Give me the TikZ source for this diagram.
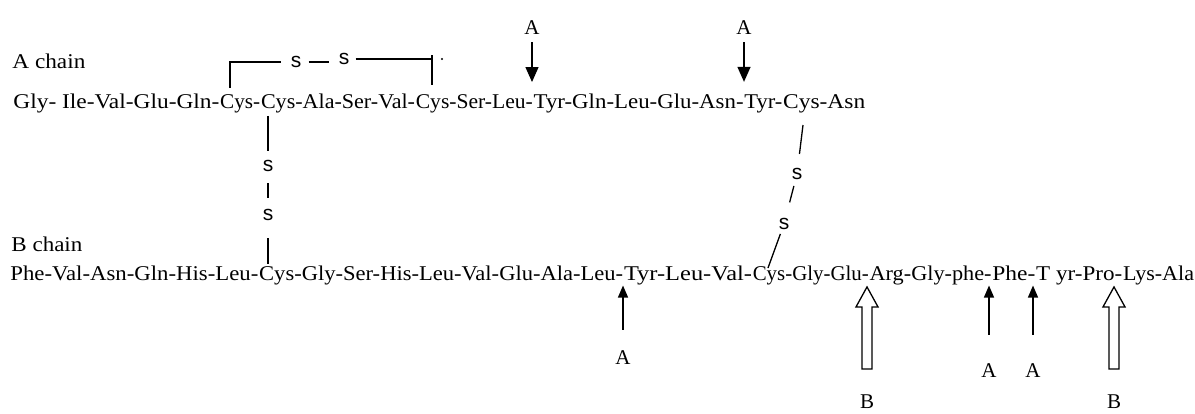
\documentclass[tikz,border=0pt]{standalone}
\usepackage{fontspec}
\usepackage{graphicx}
\setmainfont{Liberation Serif}
\newfontfamily\bondfont{Liberation Sans}
\usetikzlibrary{arrows.meta,calc}
\tikzset{
  seq/.style={inner sep=0pt, anchor=base west, font=\fontsize{10.5pt}{12pt}\selectfont},
  lbl/.style={inner sep=0pt, anchor=base, font=\fontsize{10.5pt}{12pt}\selectfont},
  sl/.style={inner sep=0pt, font=\bondfont\fontsize{10.5pt}{12pt}\selectfont},
  bond/.style={line width=0.65pt},
  arrtop/.style={line width=0.65pt, -{Triangle[width=6.5pt,length=7.5pt]}},
  arrbot/.style={line width=0.65pt, -{Triangle[width=5pt,length=6pt]}},
  hollow/.style={line width=0.65pt},
}
\begin{document}
\begin{tikzpicture}[x=0.5pt,y=-0.5pt]
\useasboundingbox (0,0) rectangle (1195,413);

% ---------- A chain ----------
\node[seq] (alab) at (12,68) {\resizebox{36.5pt}{\height}{A chain}};
\node[seq] (a1) at (13,108) {\resizebox{103pt}{\height}{Gly- Ile-Val-Glu-Gln-}};
\node[seq] (a2) at (a1.base east) {\resizebox{20pt}{\height}{Cys-}};
\node[seq] (a3) at (a2.base east) {\resizebox{77pt}{\height}{Cys-Ala-Ser-Val-}};
\node[seq] (a4) at (a3.base east) {\resizebox{58.5pt}{\height}{Cys-Ser-Leu-}};
\node[seq] (a5) at (a4.base east) {\resizebox{105pt}{\height}{Tyr-Gln-Leu-Glu-Asn-}};
\node[seq] (a6) at (a5.base east) {\resizebox{19pt}{\height}{Tyr-}};
\node[seq] (a7) at (a6.base east) {\resizebox{41pt}{\height}{Cys-Asn}};

% ---------- B chain ----------
\node[seq] (blab) at (11,251) {\resizebox{35.5pt}{\height}{B chain}};
\node[seq] (b1) at (10,280) {\resizebox{124pt}{\height}{Phe-Val-Asn-Gln-His-Leu-}};
\node[seq] (b2) at (b1.base east) {\resizebox{182pt}{\height}{Cys-Gly-Ser-His-Leu-Val-Glu-Ala-Leu-}};
\node[seq] (b3) at (b2.base east) {\resizebox{64pt}{\height}{Tyr-Leu-Val-}};
\node[seq] (b4) at (b3.base east) {\resizebox{58pt}{\height}{Cys-Gly-Glu-}};
\node[seq] (b5) at (b4.base east) {\resizebox{61pt}{\height}{Arg-Gly-phe-}};
\node[seq] (b6) at (b5.base east) {\resizebox{21.5pt}{\height}{Phe-}};
\node[seq] (b7) at (b6.base east) {\resizebox{43pt}{\height}{T yr-Pro-}};
\node[seq] (b8) at (b7.base east) {\resizebox{35.5pt}{\height}{Lys-Ala}};

% ---------- intra-chain disulfide (A6-A11) ----------
\node[sl] (sA) at (296,62) {s};
\node[sl] (sB) at (344,59) {s};
\coordinate (l1) at (230,62);
\coordinate (r1) at (432,55);
\draw[bond, shorten <=3pt, shorten >=4.5pt] (l1 |- a2.north) |- (sA);
\draw[bond, shorten <=3.5pt, shorten >=7.5pt] (sA) -- (sA -| sB);
\draw[bond, shorten <=3pt] (sB) -- (sB -| r1);
\draw[bond, shorten >=4.5pt] (r1) -- (r1 |- a4.north);
\fill (442,59) circle (0.6pt);

% ---------- inter-chain disulfide A7-B7 ----------
\node[sl] (s1) at (268,166) {s};
\node[sl] (s2) at (268,215) {s};
\draw[bond, shorten <=1.5pt, shorten >=4.5pt] (s1 |- a3.south) -- (s1);
\draw[bond, shorten <=5.5pt, shorten >=5.5pt] (s1) -- (s2);
\draw[bond, shorten <=8.5pt, shorten >=0.5pt] (s2) -- (s2 |- b2.north);

% ---------- inter-chain disulfide A20-B19 ----------
\node[sl] (s3) at (797,174) {s};
\node[sl] (s4) at (784,224) {s};
\coordinate (t1) at (803,125);
\coordinate (t4) at (768,268);
\draw[bond, shorten >=7pt] (t1) -- (s3);
\draw[bond, shorten <=3pt, shorten >=8pt] (s3) -- (s4);
\draw[bond, shorten <=2pt] (s4) -- (t4);

% ---------- cleavage arrows on A chain ----------
\node[lbl] (tA1) at (532,34) {A};
\node[lbl] (tA2) at (744,34) {A};
\draw[arrtop, shorten <=4pt, shorten >=5.5pt] (tA1) -- (tA1 |- a5.north);
\draw[arrtop, shorten <=4pt, shorten >=6pt] (tA2) -- (tA2 |- a6.north);

% ---------- cleavage arrows on B chain ----------
\node[lbl] (bA1) at (623,364) {A};
\node[lbl] (bA2) at (989,377) {A};
\node[lbl] (bA3) at (1033,377) {A};
\draw[arrbot, shorten <=10pt, shorten >=0.3pt] (bA1) -- (bA1 |- b3.south);
\draw[arrbot, shorten <=14pt, shorten >=0.3pt] (bA2) -- (bA2 |- b3.south);
\draw[arrbot, shorten <=14pt, shorten >=0.3pt] (bA3) -- (bA3 |- b3.south);

\node[lbl] (bB1) at (867,408) {B};
\node[lbl] (bB2) at (1114,408) {B};
\coordinate (h1) at ($(bB1 |- b3.south)+(0,2)$);
\coordinate (h2) at ($(bB2 |- b3.south)+(0,2)$);
\draw[hollow] (h1) -- ++(11,20) -- ++(-6,0) -- ++(0,62) -- ++(-10,0) -- ++(0,-62) -- ++(-6,0) -- cycle;
\draw[hollow] (h2) -- ++(11,20) -- ++(-6,0) -- ++(0,62) -- ++(-10,0) -- ++(0,-62) -- ++(-6,0) -- cycle;
\end{tikzpicture}
\end{document}
